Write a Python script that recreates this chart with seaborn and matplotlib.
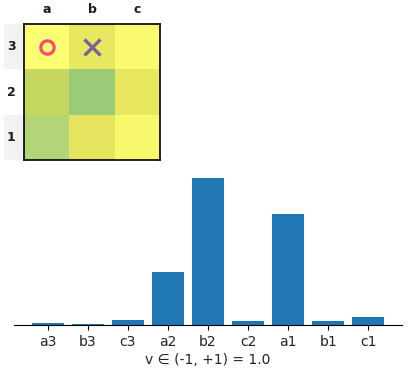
import matplotlib
matplotlib.use("Agg")
import matplotlib.pyplot as plt
import seaborn as sns
import numpy as np
import pandas as pd
from matplotlib.colors import LinearSegmentedColormap
from matplotlib.patches import Rectangle

sns.set_style("white")
plt.rcParams['font.family'] = ['DejaVu Sans']
plt.rcParams['text.color'] = 'black'
plt.rcParams['xtick.color'] = 'black'
plt.rcParams['ytick.color'] = 'black'
plt.rcParams['axes.labelcolor'] = 'black'

# ---- data ----
cols = ["a", "b", "c"]
rows = ["3", "2", "1"]
# heat values per cell (rows top->bottom: 3,2,1)
heat_row3 = [0.00, 0.34, 0.07]
heat_row2 = [0.65, 1.00, 0.35]
heat_row1 = [0.82, 0.36, 0.10]
# pieces on the board
piece_cells = ["a3", "b3"]
piece_marks = ["O", "X"]

bar_labels = ["a3", "b3", "c3", "a2", "b2", "c2", "a1", "b1", "c1"]
bar_values = [0.007, 0.004, 0.015, 0.158, 0.439, 0.012, 0.331, 0.012, 0.024]
xlabel = "v \u2208 (-1, +1) = 1.0"

cmap = LinearSegmentedColormap.from_list(
    "ttt",
    [(0.0, "#ffff73"), (0.35, "#e6e65f"), (0.65, "#c6d75f"),
     (0.82, "#b2d578"), (1.0, "#9bca78")])

W, H = 408, 376
fig = plt.figure(figsize=(W / 100, H / 100), dpi=100)

# ---- board heatmap ----
ax1 = fig.add_axes([24 / W, (H - 160) / H, 136 / W, 136 / H])
df = pd.DataFrame([heat_row3, heat_row2, heat_row1], index=rows, columns=cols)
sns.heatmap(df, ax=ax1, cmap=cmap, vmin=0, vmax=1, cbar=False,
            linewidths=0, square=False)
for s in ax1.spines.values():
    s.set_visible(True)
    s.set_color("black")
    s.set_linewidth(1.2)
ax1.xaxis.tick_top()
ax1.tick_params(axis="both", length=0)
ax1.tick_params(axis="x", pad=6)
ax1.tick_params(axis="y", pad=6)
ax1.set_xticklabels(cols, fontsize=9, fontweight="bold", color="#1a1a2e")
ax1.set_yticklabels(rows, rotation=0, fontsize=9, fontweight="bold",
                    color="#1a1a2e")
ax1.set_xlabel("")
ax1.set_ylabel("")

# alternating grey row label boxes
box_w = 20 / (136 / 3)
for i, r in enumerate(rows):
    if i % 2 == 0:
        ax1.add_patch(Rectangle((-box_w, i), box_w, 1, facecolor="#f2f2f2",
                                edgecolor="none", clip_on=False, zorder=0,
                                transform=ax1.transData))

for cell, mark in zip(piece_cells, piece_marks):
    cx = cols.index(cell[0]) + 0.5
    cy = rows.index(cell[1]) + 0.5
    if mark == "O":
        ax1.plot(cx, cy, marker="o", markersize=9.6, markerfacecolor="none",
                 markeredgecolor="#f0506e", markeredgewidth=2.3)
    else:
        ax1.plot(cx, cy, marker="x", markersize=11, markeredgecolor="#786496",
                 markeredgewidth=2.4)

# ---- bar chart ----
ax2 = fig.add_axes([14 / W, 51 / H, 388 / W, 154 / H])
sns.barplot(x=bar_labels, y=bar_values, color="#1f77b4", saturation=1,
            width=0.8, linewidth=0, edgecolor="none", ax=ax2)
ax2.set_xlim(-0.84, len(bar_labels) - 1 + 0.84)
ax2.set_ylim(0, max(bar_values) * 1.05)
ax2.set_yticks([])
for s in ["left", "top", "right"]:
    ax2.spines[s].set_visible(False)
ax2.spines["bottom"].set_color("black")
ax2.tick_params(axis="x", length=3.5, width=0.8, color="black", labelsize=10,
                bottom=True, labelcolor="#222222")
ax2.set_xlabel(xlabel, fontsize=10, labelpad=3, color="#222222")

fig.savefig("out.png", dpi=100)
